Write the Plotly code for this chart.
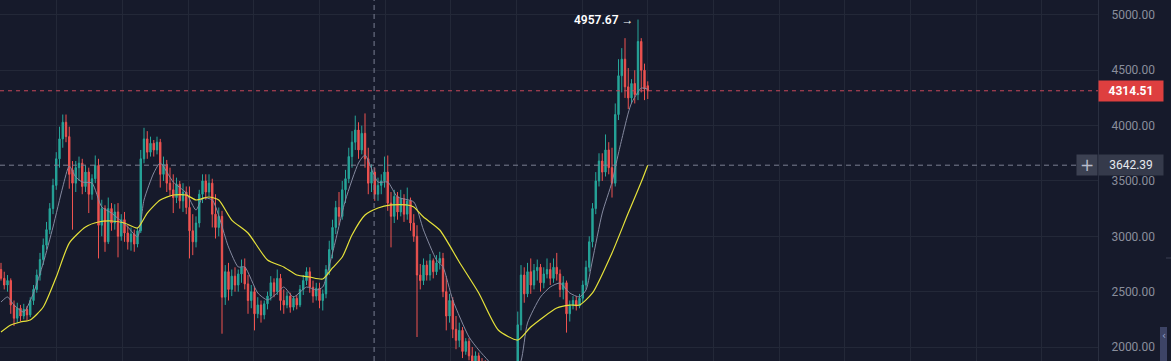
import plotly.graph_objects as go

# ---------------- data ----------------
open_ = [
    2700, 2620, 2560, 2600, 2380, 2260, 2350, 2280, 2340, 2290,
    2420, 2520, 2650, 2790, 2920, 3060, 3250, 3460, 3700, 3880,
    4030, 3900, 3600, 3480, 3620, 3660, 3450, 3580, 3380, 3520,
    3640, 3100, 3250, 2950, 3250, 3120, 3220, 3000, 3150, 3030,
    2950, 3020, 2930, 3050, 3700, 3880, 3760, 3840, 3780, 3850,
    3560, 3650, 3480, 3420, 3350, 3470, 3320, 3400, 3260, 3050,
    2950, 3120, 3380, 3500, 3400, 3480, 3200, 3080, 3180, 2450,
    2680, 2520, 2640, 2560, 2660, 2720, 2570, 2420, 2500, 2300,
    2380, 2290, 2390, 2460, 2580, 2500, 2620, 2420, 2380, 2460,
    2360, 2440, 2380, 2520, 2600, 2680, 2540, 2460, 2530, 2420,
    2480, 2700, 2880, 3080, 3260, 3180, 3420, 3520, 3720, 3850,
    3960, 3780, 3930, 3700, 3480, 3580, 3380, 3460, 3500, 3580,
    3300, 3180, 3360, 3220, 3340, 3200, 3320, 3120, 3000, 2650,
    2600, 2740, 2650, 2780, 2680, 2760, 2800, 2500, 2280, 2420,
    2160, 2060, 2150, 1960, 2050, 1920, 1860, 1920, 1820, 1760,
    1700, 1620, 1700, 1560, 1500, 1610, 1530, 1680, 1600, 1750,
    2200, 2650, 2480, 2680, 2560, 2690, 2720, 2580, 2660, 2700,
    2620, 2720, 2660, 2520, 2580, 2300, 2380, 2420, 2370, 2440,
    2560, 2720, 2950, 3250, 3500, 3680, 3580, 3780, 3620, 3480,
    4100, 4450, 4600, 4350, 4250, 4380, 4280, 4760, 4500, 4360,
]
high = [
    2760, 2680, 2650, 2620, 2420, 2400, 2380, 2390, 2370, 2450,
    2560, 2700, 2850, 2980, 3130, 3300, 3520, 3760, 3990, 4100,
    4100, 3990, 3680, 3680, 3720, 3700, 3640, 3620, 3560, 3730,
    3700, 3330, 3280, 3350, 3300, 3290, 3300, 3200, 3220, 3100,
    3080, 3060, 3080, 3780, 3980, 3950, 3900, 3870, 3900, 3880,
    3720, 3690, 3620, 3560, 3530, 3500, 3480, 3450, 3450, 3200,
    3180, 3420, 3560, 3560, 3560, 3520, 3380, 3260, 3230, 2740,
    2760, 2700, 2720, 2700, 2790, 2800, 2650, 2560, 2540, 2450,
    2420, 2420, 2500, 2640, 2620, 2700, 2660, 2520, 2500, 2490,
    2460, 2470, 2560, 2650, 2720, 2720, 2600, 2580, 2580, 2520,
    2740, 2960, 3150, 3320, 3400, 3500, 3600, 3800, 3950, 4090,
    4030, 4000, 4110, 3800, 3650, 3620, 3530, 3560, 3720, 3730,
    3400, 3420, 3400, 3420, 3380, 3440, 3350, 3200, 3100, 2750,
    2800, 2780, 2840, 2800, 2830, 2860, 2850, 2640, 2480, 2450,
    2280, 2220, 2180, 2080, 2080, 2000, 1960, 1950, 1900, 1880,
    1800, 1760, 1750, 1640, 1660, 1700, 1720, 1760, 1800, 2320,
    2740, 2720, 2760, 2800, 2750, 2790, 2750, 2720, 2800, 2760,
    2800, 2850, 2700, 2640, 2600, 2420, 2460, 2460, 2480, 2600,
    2780, 3000, 3300, 3580, 3750, 3750, 3920, 3850, 3800, 4200,
    4600, 4700, 4790, 4520, 4420, 4500, 4957.67, 4790, 4560, 4400,
]
low = [
    2600, 2520, 2500, 2300, 2190, 2220, 2230, 2250, 2240, 2270,
    2380, 2490, 2600, 2740, 2880, 3020, 3200, 3420, 3620, 3800,
    3850, 3430, 3060, 3400, 3500, 3380, 3400, 3210, 3330, 3480,
    2800, 3000, 2860, 2930, 3050, 3060, 2810, 2960, 2950, 2880,
    2870, 2860, 2900, 3030, 3660, 3700, 3720, 3720, 3740, 3440,
    3500, 3400, 3360, 3210, 3300, 3250, 3220, 3200, 2800, 2830,
    2900, 3080, 3300, 3330, 3360, 3080, 2980, 3000, 2120, 2380,
    2420, 2460, 2500, 2500, 2580, 2520, 2300, 2350, 2150, 2260,
    2220, 2250, 2340, 2420, 2450, 2470, 2330, 2300, 2350, 2310,
    2330, 2340, 2360, 2470, 2560, 2490, 2400, 2420, 2350, 2330,
    2440, 2650, 2800, 3020, 3100, 3150, 3300, 3480, 3620, 3780,
    3700, 3740, 3620, 3380, 3400, 3320, 3320, 3380, 3440, 3230,
    2900, 3120, 3150, 3180, 3130, 3150, 3050, 2950, 2090, 2520,
    2560, 2600, 2600, 2620, 2650, 2700, 2450, 2150, 2220, 2080,
    1980, 2000, 1900, 1930, 1880, 1800, 1820, 1780, 1700, 1650,
    1580, 1560, 1520, 1450, 1470, 1480, 1500, 1550, 1560, 1700,
    2150, 2400, 2450, 2480, 2520, 2600, 2500, 2530, 2620, 2560,
    2580, 2600, 2450, 2430, 2130, 2230, 2340, 2330, 2350, 2400,
    2520, 2680, 2900, 3200, 3450, 3500, 3540, 3560, 3350, 3450,
    4050, 4300, 4250, 4150, 4200, 4200, 4230, 4300, 4230, 4240,
]
close = [
    2620, 2560, 2600, 2380, 2260, 2350, 2280, 2340, 2290, 2420,
    2520, 2650, 2790, 2920, 3060, 3250, 3460, 3700, 3880, 4030,
    3900, 3560, 3480, 3620, 3660, 3450, 3580, 3380, 3520, 3640,
    3100, 3250, 2950, 3250, 3120, 3220, 3000, 3150, 3030, 2950,
    3020, 2930, 3050, 3700, 3880, 3760, 3840, 3780, 3850, 3560,
    3650, 3480, 3420, 3350, 3470, 3320, 3400, 3260, 3050, 2950,
    3120, 3380, 3500, 3400, 3480, 3200, 3080, 3180, 2450, 2680,
    2520, 2640, 2560, 2660, 2720, 2570, 2420, 2500, 2300, 2380,
    2290, 2390, 2460, 2580, 2500, 2620, 2420, 2380, 2460, 2360,
    2440, 2380, 2520, 2600, 2680, 2540, 2460, 2530, 2420, 2480,
    2700, 2880, 3080, 3260, 3180, 3420, 3520, 3720, 3850, 3960,
    3780, 3930, 3700, 3480, 3580, 3380, 3460, 3500, 3580, 3300,
    3180, 3360, 3220, 3340, 3200, 3320, 3120, 3000, 2650, 2600,
    2740, 2650, 2780, 2680, 2760, 2800, 2500, 2280, 2420, 2160,
    2060, 2150, 1960, 2050, 1920, 1860, 1920, 1820, 1760, 1700,
    1620, 1700, 1560, 1500, 1610, 1530, 1680, 1600, 1750, 2200,
    2650, 2480, 2680, 2560, 2690, 2720, 2580, 2660, 2700, 2620,
    2720, 2660, 2520, 2580, 2300, 2380, 2420, 2370, 2440, 2560,
    2720, 2950, 3250, 3500, 3680, 3580, 3780, 3620, 3480, 4100,
    4450, 4600, 4350, 4250, 4380, 4280, 4760, 4500, 4330, 4314.51,
]

# slow moving average (yellow), sampled at candle indices
ma_slow_idx = [0, 3, 6, 9, 13, 17, 21, 26, 30, 34, 38, 42, 45, 49, 53, 57, 60, 64, 67,
               71, 76, 82, 87, 91, 95, 99, 102, 105, 108, 112, 116, 120, 125, 127, 130,
               135, 141, 147, 153, 159, 163, 171, 175, 178, 182, 188, 193, 197, 199]
ma_slow_val = [2135, 2199, 2226, 2244, 2361, 2632, 2939, 3084, 3129, 3138, 3120, 3075, 3210,
               3328, 3373, 3373, 3328, 3355, 3328, 3147, 3030, 2786, 2723, 2650, 2632, 2614,
               2714, 2813, 3012, 3192, 3256, 3283, 3283, 3265, 3174, 3057, 2768, 2488, 2154,
               2063, 2181, 2352, 2379, 2379, 2488, 2849, 3210, 3490, 3642.39]

# fast moving average (grey)
ma_fast_idx = [0, 2, 4, 7, 10, 13, 16, 19, 21, 23, 25, 28, 31, 34, 39, 42, 44, 47, 49, 53,
               57, 60, 62, 65, 70, 73, 75, 79, 82, 85, 87, 90, 94, 97, 99, 102, 106, 110,
               112, 116, 119, 122, 127, 130, 134, 136, 139, 144, 147, 150, 153, 157, 160,
               162, 166, 169, 172, 175, 178, 180, 182, 185, 188, 190, 193, 194, 196, 197, 199]
ma_fast_val = [2406, 2452, 2379, 2316, 2488, 2759, 3084, 3445, 3635, 3536, 3490, 3481, 3265,
               3210, 3084, 2994, 3328, 3572, 3662, 3490, 3391, 3237, 3346, 3328, 2903, 2723,
               2723, 2488, 2425, 2488, 2542, 2452, 2542, 2515, 2542, 2849, 3328, 3662, 3734,
               3490, 3490, 3355, 3310, 3057, 2786, 2723, 2425, 2090, 1973, 1874, 1760, 1720,
               1874, 2217, 2452, 2542, 2578, 2488, 2452, 2515, 2786, 3210, 3490, 3752, 4114,
               4204, 4303, 4340, 4330]

y_ticks = [2000, 2500, 3000, 3500, 4000, 4500, 5000]
last_price = 4314.51
crosshair_price = 3642.39
crosshair_index = 114.8
peak_index = 196
peak_price = 4957.67

# ---------------- style ----------------
BG = "#161a2b"
GRID = "#232838"
GREEN = "#26a69a"
RED = "#ef5350"
TXT = "#8a8e9c"
W, H = 1171, 361
PLOT_W = 1098

idx = list(range(len(close)))

fig = go.Figure()
fig.add_trace(go.Candlestick(
    x=idx, open=open_, high=high, low=low, close=close,
    increasing=dict(line=dict(color=GREEN, width=1), fillcolor=GREEN),
    decreasing=dict(line=dict(color=RED, width=1), fillcolor=RED),
    whiskerwidth=0, hoverinfo="skip", showlegend=False,
))
fig.add_trace(go.Scatter(x=ma_fast_idx, y=ma_fast_val, mode="lines",
                         line=dict(color="#858aa0", width=1, shape="spline", smoothing=0.6),
                         hoverinfo="skip", showlegend=False))
fig.add_trace(go.Scatter(x=ma_slow_idx, y=ma_slow_val, mode="lines",
                         line=dict(color="#e6e23a", width=1.2, shape="spline", smoothing=0.6),
                         hoverinfo="skip", showlegend=False))

px_per_candle = 3.25
x0 = -1 / px_per_candle
x1 = (PLOT_W - 1) / px_per_candle

shapes = [
    # last price dashed line
    dict(type="line", xref="paper", yref="y", x0=0, x1=1, y0=last_price, y1=last_price,
         line=dict(color="#c9475a", width=1, dash="4px,4px")),
    # horizontal crosshair
    dict(type="line", xref="paper", yref="y", x0=0, x1=1078 / PLOT_W,
         y0=crosshair_price, y1=crosshair_price,
         line=dict(color="#7a7f92", width=1, dash="5px,4px")),
    # vertical crosshair
    dict(type="line", xref="x", yref="paper", x0=crosshair_index, x1=crosshair_index,
         y0=0, y1=1, line=dict(color="#7a7f92", width=1, dash="5px,4px")),
    # scrollbar handle
    dict(type="rect", xref="paper", yref="paper", x0=1160 / PLOT_W, x1=1167 / PLOT_W,
         y0=0, y1=(H - 327) / H, fillcolor="#3d4466", line=dict(width=0)),
    dict(type="line", xref="paper", yref="paper", x0=1166 / PLOT_W, x1=1171 / PLOT_W,
         y0=(H - 258) / H, y1=(H - 258) / H, line=dict(color="#3a3f52", width=1)),
]

annotations = [
    dict(xref="paper", yref="y", x=1, y=last_price, xanchor="left", yanchor="middle",
         text=f"{last_price:.2f}", showarrow=False, bgcolor="#de3f3f",
         font=dict(family="Roboto", size=12, color="#ffffff", weight=700),
         width=58, height=14, borderpad=3, align="center"),
    dict(xref="paper", yref="y", x=1, y=crosshair_price, xanchor="left", yanchor="middle",
         text=f"{crosshair_price:.2f}", showarrow=False, bgcolor="#353a4b",
         font=dict(family="Roboto", size=12, color="#e6e8ee"),
         width=58, height=14, borderpad=3, align="center"),
    dict(xref="paper", yref="y", x=1, y=crosshair_price, xanchor="right", yanchor="middle",
         text="+", showarrow=False, bgcolor="#3c4152",
         font=dict(family="DejaVu Sans", size=17, color="#b8bccb"),
         width=14, height=14, borderpad=3, align="center"),
    dict(xref="x", yref="y", x=peak_index, y=peak_price, xanchor="right", yanchor="middle",
         xshift=-2, text=f"{peak_price:.2f} →", showarrow=False,
         font=dict(family="Roboto", size=12, color="#ffffff", weight=600)),
    dict(xref="paper", yref="paper", x=1163.5 / PLOT_W, y=(H - 335) / H, xanchor="center",
         yanchor="middle", text="‹", showarrow=False,
         font=dict(family="DejaVu Sans", size=10, color="#9aa2c8")),
]

fig.update_layout(
    width=W, height=H,
    margin=dict(l=0, r=W - PLOT_W, t=0, b=0),
    paper_bgcolor=BG, plot_bgcolor=BG,
    showlegend=False, hovermode=False,
    shapes=shapes, annotations=annotations,
    boxgap=0.4,
    xaxis=dict(range=[x0, x1], rangeslider=dict(visible=False), showticklabels=False,
               showgrid=True, gridcolor=GRID, gridwidth=1, tick0=17.2, dtick=20.2,
               zeroline=False, showline=False, ticks=""),
    yaxis=dict(range=[1873.5, 5134.6], side="right", tickvals=y_ticks,
               ticktext=[f"{v:.2f}" for v in y_ticks],
               tickfont=dict(family="Roboto", size=12, color=TXT),
               showgrid=True, gridcolor=GRID, gridwidth=1, zeroline=False,
               showline=True, linecolor="#2a2f40", linewidth=1, ticks="",
               ticklabelstandoff=10),
)

fig.write_html("out.html", config={"displayModeBar": False, "staticPlot": True},
               post_script="document.body.style.margin='0';document.body.style.overflow='hidden';document.body.style.background='" + BG + "';")
